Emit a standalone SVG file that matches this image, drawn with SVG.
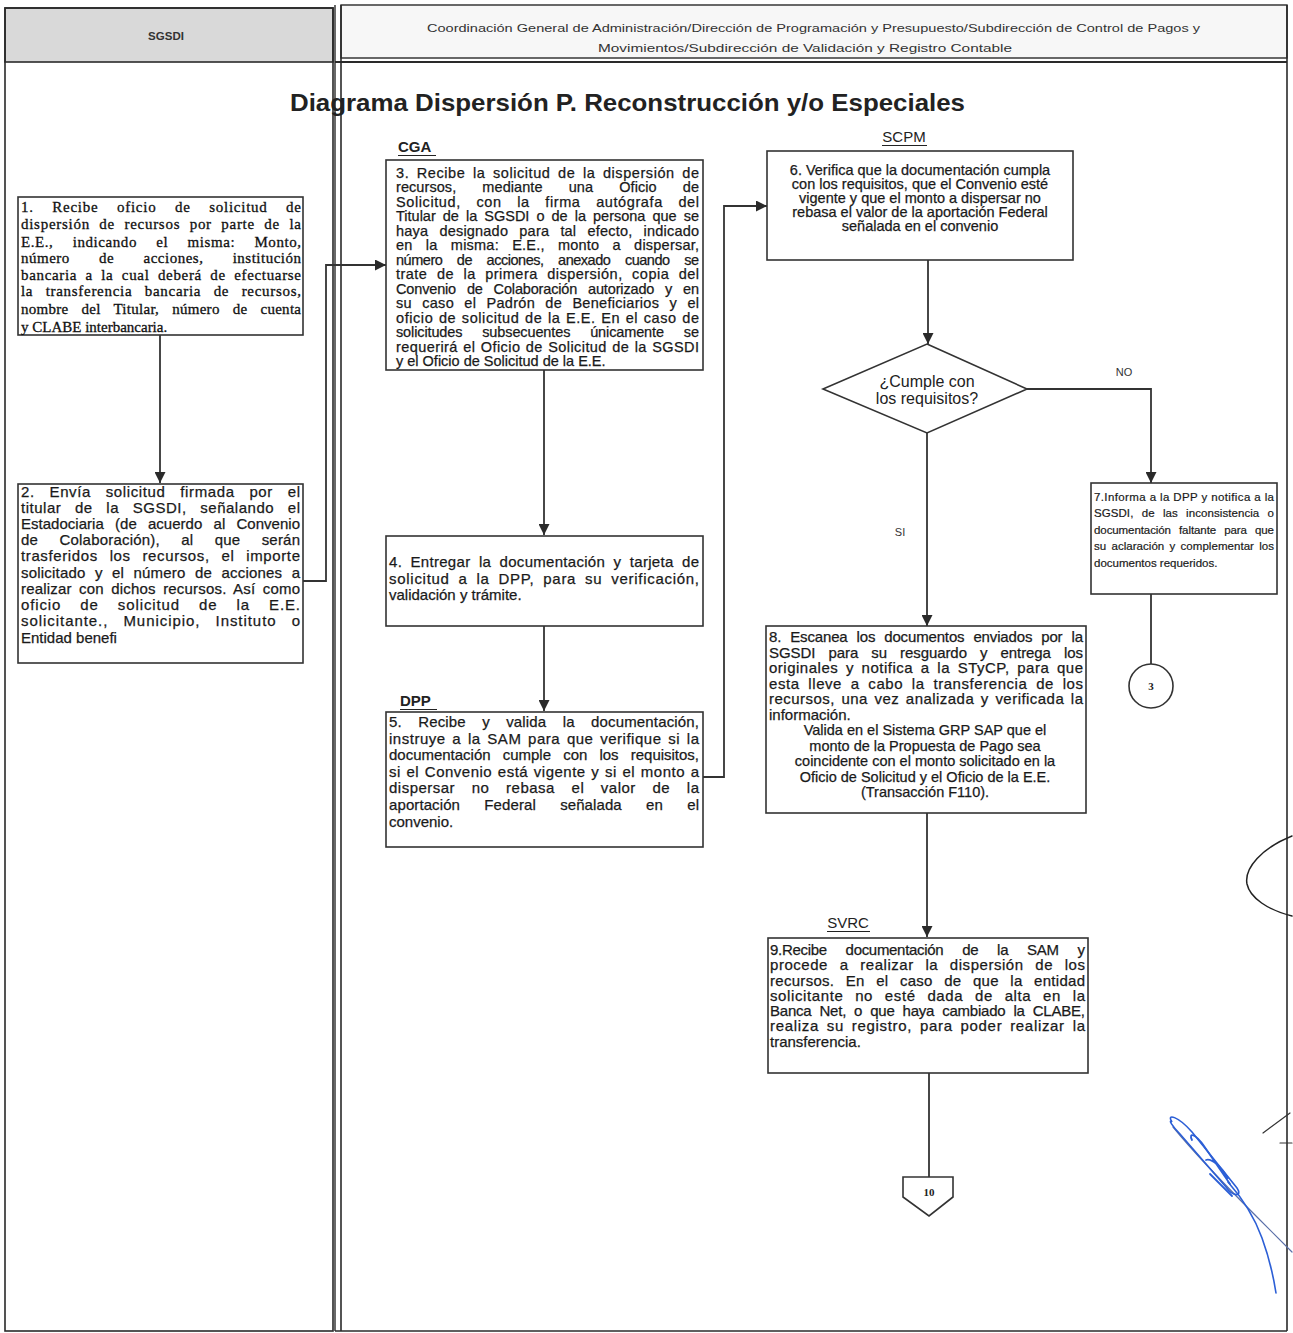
<svg xmlns="http://www.w3.org/2000/svg" width="1293" height="1333" viewBox="0 0 1293 1333">
  <style>
    .lane { fill: none; stroke: #2a2a2a; stroke-width: 1.6; }
    .box { fill: #ffffff; stroke: #333333; stroke-width: 1.6; }
    .line { fill: none; stroke: #333333; stroke-width: 1.8; }
    .t { font-family: "Liberation Sans", Arial, sans-serif; font-size: 15px; fill: #1a1a1a; stroke: #1a1a1a; stroke-width: 0.25; }
    .t3 { font-family: "Liberation Sans", Arial, sans-serif; font-size: 14.5px; fill: #1a1a1a; stroke: #1a1a1a; stroke-width: 0.25; }
    .t7 { font-family: "Liberation Sans", Arial, sans-serif; font-size: 11.5px; fill: #1a1a1a; stroke: #1a1a1a; stroke-width: 0.2; }
    .ts { font-family: "Liberation Serif", "Times New Roman", serif; font-size: 15px; fill: #111111; stroke: #111111; stroke-width: 0.3; }
    .c { text-anchor: middle; }
    .lbl { font-family: "Liberation Sans", Arial, sans-serif; font-size: 15px; fill: #222222; }
    .hdr { font-family: "Liberation Sans", Arial, sans-serif; font-size: 11.5px; fill: #333333; }
    .small { font-family: "Liberation Sans", Arial, sans-serif; font-size: 11px; fill: #333333; }
  </style>
  <defs>
    <marker id="arrow" viewBox="0 0 10 10" refX="10" refY="5" markerWidth="11" markerHeight="11" markerUnits="userSpaceOnUse" orient="auto">
      <path d="M0,0 L10,5 L0,10 Z" fill="#2a2a2a"/>
    </marker>
  </defs>

  <rect width="1293" height="1333" fill="#ffffff"/>

  <!-- swimlanes -->
  <g id="lanes">
    <rect x="5" y="8" width="328" height="54" fill="#d9d9d9" stroke="#2a2a2a" stroke-width="1.6"/>
    <rect x="5" y="8" width="328" height="1323" class="lane"/>
    <rect x="341" y="5" width="946" height="53" fill="#f7f7f7" stroke="#2a2a2a" stroke-width="1.4"/>
    <line x1="335" y1="62" x2="1287" y2="62" stroke="#2a2a2a" stroke-width="2"/>
    <line x1="335" y1="5" x2="335" y2="1331" stroke="#2a2a2a" stroke-width="1.4"/>
    <line x1="341" y1="5" x2="341" y2="1331" stroke="#2a2a2a" stroke-width="1.6"/>
    <line x1="1287" y1="5" x2="1287" y2="1331" stroke="#2a2a2a" stroke-width="1.6"/>
    <line x1="335" y1="1331" x2="1287" y2="1331" stroke="#2a2a2a" stroke-width="1.6"/>
    <text class="hdr c" x="166" y="40" font-weight="bold" font-size="11">SGSDI</text>
    <text class="hdr" x="427" y="32" textLength="773" lengthAdjust="spacingAndGlyphs">Coordinación General de Administración/Dirección de Programación y Presupuesto/Subdirección de Control de Pagos y</text>
    <text class="hdr" x="598" y="52" textLength="414" lengthAdjust="spacingAndGlyphs">Movimientos/Subdirección de Validación y Registro Contable</text>
  </g>

  <text x="290" y="111" font-family="'Liberation Sans', Arial, sans-serif" font-size="24" font-weight="bold" fill="#222222" textLength="675" lengthAdjust="spacingAndGlyphs">Diagrama Dispersión P. Reconstrucción y/o Especiales</text>

  <!-- connectors -->
  <g id="connectors">
    <path class="line" d="M160,335 V483" marker-end="url(#arrow)"/>
    <path class="line" d="M303,581 H326 V265 H386" marker-end="url(#arrow)"/>
    <path class="line" d="M544,370 V535" marker-end="url(#arrow)"/>
    <path class="line" d="M544,626 V711" marker-end="url(#arrow)"/>
    <path class="line" d="M703,777 H724 V206 H767" marker-end="url(#arrow)"/>
    <path class="line" d="M928,260 V344" marker-end="url(#arrow)"/>
    <path class="line" d="M1027,389 H1151 V483" marker-end="url(#arrow)"/>
    <path class="line" d="M927,433 V626" marker-end="url(#arrow)"/>
    <path class="line" d="M1151,594 V664"/>
    <path class="line" d="M927,813 V937" marker-end="url(#arrow)"/>
    <path class="line" d="M929,1073 V1177"/>
    <text class="small" x="1124" y="376" text-anchor="middle">NO</text>
    <text class="small" x="900" y="536" text-anchor="middle">SI</text>
  </g>

  <!-- 1 -->
  <g id="n1">
    <rect class="box" x="18" y="197" width="285" height="138"/>
    <text class="ts" x="21" y="212" word-spacing="14" textLength="280" lengthAdjust="spacing">1. Recibe oficio de solicitud de</text>
    <text class="ts" x="21" y="229" word-spacing="5" textLength="280" lengthAdjust="spacing">dispersión de recursos por parte de la</text>
    <text class="ts" x="21" y="247" word-spacing="15" textLength="280" lengthAdjust="spacing">E.E., indicando el misma: Monto,</text>
    <text class="ts" x="21" y="263" word-spacing="25" textLength="280" lengthAdjust="spacing">número de acciones, institución</text>
    <text class="ts" x="21" y="280" word-spacing="4" textLength="280" lengthAdjust="spacing">bancaria a la cual deberá de efectuarse</text>
    <text class="ts" x="21" y="296" word-spacing="8" textLength="280" lengthAdjust="spacing">la transferencia bancaria de recursos,</text>
    <text class="ts" x="21" y="314" word-spacing="9" textLength="280" lengthAdjust="spacing">nombre del Titular, número de cuenta</text>
    <text class="ts" x="21" y="332">y CLABE interbancaria.</text>
  </g>

  <!-- 2 -->
  <g id="n2">
    <rect class="box" x="18" y="484" width="285" height="179"/>
    <text class="t" x="21" y="497" word-spacing="10" textLength="279" lengthAdjust="spacing">2. Envía solicitud firmada por el</text>
    <text class="t" x="21" y="513" word-spacing="9" textLength="279" lengthAdjust="spacing">titular de la SGSDI, señalando el</text>
    <text class="t" x="21" y="529" word-spacing="7" textLength="279" lengthAdjust="spacing">Estadociaria (de acuerdo al Convenio</text>
    <text class="t" x="21" y="545" word-spacing="17" textLength="279" lengthAdjust="spacing">de Colaboración), al que serán</text>
    <text class="t" x="21" y="561" word-spacing="7" textLength="279" lengthAdjust="spacing">trasferidos los recursos, el importe</text>
    <text class="t" x="21" y="578" word-spacing="5" textLength="279" lengthAdjust="spacing">solicitado y el número de acciones a</text>
    <text class="t" x="21" y="594" word-spacing="3" textLength="279" lengthAdjust="spacing">realizar con dichos recursos. Así como</text>
    <text class="t" x="21" y="610" word-spacing="14" textLength="279" lengthAdjust="spacing">oficio de solicitud de la E.E.</text>
    <text class="t" x="21" y="626" word-spacing="10" textLength="279" lengthAdjust="spacing">solicitante., Municipio, Instituto o</text>
    <text class="t" x="21" y="643">Entidad benefi</text>
  </g>

  <!-- 3 -->
  <g id="n3">
    <text class="lbl" x="398" y="152" font-weight="bold">CGA</text>
    <line x1="398" y1="155.5" x2="436" y2="155.5" stroke="#222" stroke-width="1.2"/>
    <rect class="box" x="386" y="160" width="317" height="210"/>
    <text class="t3" x="396" y="177.5" word-spacing="3" textLength="303" lengthAdjust="spacing">3. Recibe la solicitud de la dispersión de</text>
    <text class="t3" x="396" y="192" word-spacing="22" textLength="303" lengthAdjust="spacing">recursos, mediante una Oficio de</text>
    <text class="t3" x="396" y="206.5" word-spacing="11" textLength="303" lengthAdjust="spacing">Solicitud, con la firma autógrafa del</text>
    <text class="t3" x="396" y="221" word-spacing="3" textLength="303" lengthAdjust="spacing">Titular de la SGSDI o de la persona que se</text>
    <text class="t3" x="396" y="235.5" word-spacing="7" textLength="303" lengthAdjust="spacing">haya designado para tal efecto, indicado</text>
    <text class="t3" x="396" y="250" word-spacing="9" textLength="303" lengthAdjust="spacing">en la misma: E.E., monto a dispersar,</text>
    <text class="t3" x="396" y="264.5" word-spacing="11" textLength="303" lengthAdjust="spacing">número de acciones, anexado cuando se</text>
    <text class="t3" x="396" y="279" word-spacing="5" textLength="303" lengthAdjust="spacing">trate de la primera dispersión, copia del</text>
    <text class="t3" x="396" y="293.5" word-spacing="7" textLength="303" lengthAdjust="spacing">Convenio de Colaboración autorizado y en</text>
    <text class="t3" x="396" y="308" word-spacing="6" textLength="303" lengthAdjust="spacing">su caso el Padrón de Beneficiarios y el</text>
    <text class="t3" x="396" y="322.5" word-spacing="1" textLength="303" lengthAdjust="spacing">oficio de solicitud de la E.E. En el caso de</text>
    <text class="t3" x="396" y="337" word-spacing="16" textLength="303" lengthAdjust="spacing">solicitudes subsecuentes únicamente se</text>
    <text class="t3" x="396" y="351.5" word-spacing="1" textLength="303" lengthAdjust="spacing">requerirá el Oficio de Solicitud de la SGSDI</text>
    <text class="t3" x="396" y="366">y el Oficio de Solicitud de la E.E.</text>
  </g>

  <!-- 4 -->
  <g id="n4">
    <rect class="box" x="386" y="536" width="317" height="90"/>
    <text class="t" x="389" y="567" word-spacing="4" textLength="310" lengthAdjust="spacing">4. Entregar la documentación y tarjeta de</text>
    <text class="t" x="389" y="583.5" word-spacing="4" textLength="310" lengthAdjust="spacing">solicitud a la DPP, para su verificación,</text>
    <text class="t" x="389" y="600">validación y trámite.</text>
  </g>

  <!-- 5 -->
  <g id="n5">
    <text class="lbl" x="400" y="706" font-weight="bold">DPP</text>
    <line x1="400" y1="709.5" x2="437" y2="709.5" stroke="#222" stroke-width="1.2"/>
    <rect class="box" x="386" y="712" width="317" height="135"/>
    <text class="t" x="389" y="727" word-spacing="12" textLength="310" lengthAdjust="spacing">5. Recibe y valida la documentación,</text>
    <text class="t" x="389" y="743.5" word-spacing="2" textLength="310" lengthAdjust="spacing">instruye a la SAM para que verifique si la</text>
    <text class="t" x="389" y="760" word-spacing="8" textLength="310" lengthAdjust="spacing">documentación cumple con los requisitos,</text>
    <text class="t" x="389" y="776.5" word-spacing="1" textLength="310" lengthAdjust="spacing">si el Convenio está vigente y si el monto a</text>
    <text class="t" x="389" y="793" word-spacing="12" textLength="310" lengthAdjust="spacing">dispersar no rebasa el valor de la</text>
    <text class="t" x="389" y="810" word-spacing="20" textLength="310" lengthAdjust="spacing">aportación Federal señalada en el</text>
    <text class="t" x="389" y="827">convenio.</text>
  </g>

  <!-- 6 -->
  <g id="n6">
    <text class="lbl" x="904" y="142" text-anchor="middle" font-size="14">SCPM</text>
    <line x1="882" y1="145.5" x2="927" y2="145.5" stroke="#222" stroke-width="1.2"/>
    <rect class="box" x="767" y="151" width="306" height="109"/>
    <text class="t3 c" x="920" y="174.5">6. Verifica que la documentación cumpla</text>
    <text class="t3 c" x="920" y="188.5">con los requisitos, que el Convenio esté</text>
    <text class="t3 c" x="920" y="202.5">vigente y que el monto a dispersar no</text>
    <text class="t3 c" x="920" y="216.5">rebasa el valor de la aportación Federal</text>
    <text class="t3 c" x="920" y="230.5">señalada en el convenio</text>
  </g>

  <!-- decision -->
  <g id="decision">
    <polygon class="box" points="927,344 1027,389 927,433 823,389"/>
    <text class="c" x="927" y="387" font-family="'Liberation Sans', Arial, sans-serif" font-size="16" fill="#222">¿Cumple con</text>
    <text class="c" x="927" y="404" font-family="'Liberation Sans', Arial, sans-serif" font-size="16" fill="#222">los requisitos?</text>
  </g>

  <!-- 7 -->
  <g id="n7">
    <rect class="box" x="1091" y="483" width="186" height="111"/>
    <text class="t7" x="1094" y="501" textLength="180" lengthAdjust="spacing">7.Informa a la DPP y notifica a la</text>
    <text class="t7" x="1094" y="517" word-spacing="5" textLength="180" lengthAdjust="spacing">SGSDI, de las inconsistencia o</text>
    <text class="t7" x="1094" y="534" word-spacing="5" textLength="180" lengthAdjust="spacing">documentación faltante para que</text>
    <text class="t7" x="1094" y="550" word-spacing="2" textLength="180" lengthAdjust="spacing">su aclaración y complementar los</text>
    <text class="t7" x="1094" y="567">documentos requeridos.</text>
  </g>

  <!-- off-page 3 -->
  <g id="ref3">
    <circle class="box" cx="1151" cy="686" r="22"/>
    <text x="1151" y="690" text-anchor="middle" font-family="'Liberation Serif', serif" font-size="11" font-weight="bold" fill="#222">3</text>
  </g>

  <!-- 8 -->
  <g id="n8">
    <rect class="box" x="766" y="626" width="320" height="187"/>
    <text class="t" x="769" y="642" word-spacing="5" textLength="314" lengthAdjust="spacing">8. Escanea los documentos enviados por la</text>
    <text class="t" x="769" y="657.5" word-spacing="9" textLength="314" lengthAdjust="spacing">SGSDI para su resguardo y entrega los</text>
    <text class="t" x="769" y="673" word-spacing="3" textLength="314" lengthAdjust="spacing">originales y notifica a la STyCP, para que</text>
    <text class="t" x="769" y="688.5" word-spacing="4" textLength="314" lengthAdjust="spacing">esta lleve a cabo la transferencia de los</text>
    <text class="t" x="769" y="704" word-spacing="2" textLength="314" lengthAdjust="spacing">recursos, una vez analizada y verificada la</text>
    <text class="t" x="769" y="719.5">información.</text>
    <text class="t3 c" x="925" y="735">Valida en el Sistema GRP SAP que el</text>
    <text class="t3 c" x="925" y="750.5">monto de la Propuesta de Pago sea</text>
    <text class="t3 c" x="925" y="766">coincidente con el monto solicitado en la</text>
    <text class="t3 c" x="925" y="781.5">Oficio de Solicitud y el Oficio de la E.E.</text>
    <text class="t3 c" x="925" y="797">(Transacción F110).</text>
  </g>

  <!-- 9 -->
  <g id="n9">
    <text class="lbl" x="848" y="928" text-anchor="middle" font-size="14">SVRC</text>
    <line x1="827" y1="931.5" x2="870" y2="931.5" stroke="#222" stroke-width="1.2"/>
    <rect class="box" x="768" y="938" width="320" height="135"/>
    <text class="t" x="770" y="955" word-spacing="15" textLength="315" lengthAdjust="spacing">9.Recibe documentación de la SAM y</text>
    <text class="t" x="770" y="970" word-spacing="7" textLength="315" lengthAdjust="spacing">procede a realizar la dispersión de los</text>
    <text class="t" x="770" y="986" word-spacing="7" textLength="315" lengthAdjust="spacing">recursos. En el caso de que la entidad</text>
    <text class="t" x="770" y="1001" word-spacing="7" textLength="315" lengthAdjust="spacing">solicitante no esté dada de alta en la</text>
    <text class="t" x="770" y="1016" word-spacing="4" textLength="315" lengthAdjust="spacing">Banca Net, o que haya cambiado la CLABE,</text>
    <text class="t" x="770" y="1031" word-spacing="3" textLength="315" lengthAdjust="spacing">realiza su registro, para poder realizar la</text>
    <text class="t" x="770" y="1047">transferencia.</text>
  </g>

  <!-- off-page 10 -->
  <g id="ref10">
    <polygon class="box" points="903,1177 953,1177 953,1197 929,1216 903,1197"/>
    <text x="929" y="1196" text-anchor="middle" font-family="'Liberation Serif', serif" font-size="11" font-weight="bold" fill="#222">10</text>
  </g>

  <!-- handwritten marks at the right edge -->
  <g id="marks" fill="none" stroke-linecap="round">
    <path d="M1292,836 C1262,848 1244,868 1247,884 C1250,898 1268,910 1292,916" stroke="#222" stroke-width="1.5"/>
    <path d="M1263,1133 L1290,1113" stroke="#333" stroke-width="1.2"/>
    <path d="M1280,1143 L1292,1143" stroke="#333" stroke-width="1.2"/>
    <path d="M1173,1127 C1200,1160 1236,1196 1258,1218 C1272,1232 1284,1244 1292,1252" stroke="#5a6fa8" stroke-width="1.2"/>
    <path d="M1172,1122 C1166,1113 1178,1116 1192,1132 L1237,1188 C1243,1197 1233,1197 1226,1187 L1180,1134 C1172,1126 1168,1119 1172,1122 Z" stroke="#2c5fd6" stroke-width="1.6"/>
    <path d="M1192,1140 C1188,1132 1196,1134 1204,1146 L1230,1184 M1206,1160 C1212,1158 1222,1168 1228,1178 M1210,1174 L1232,1196" stroke="#2c5fd6" stroke-width="1.8"/>
    <path d="M1228,1182 C1244,1200 1254,1216 1262,1238 C1270,1260 1274,1280 1276,1293" stroke="#2c5fd6" stroke-width="1.6"/>
  </g>
</svg>
